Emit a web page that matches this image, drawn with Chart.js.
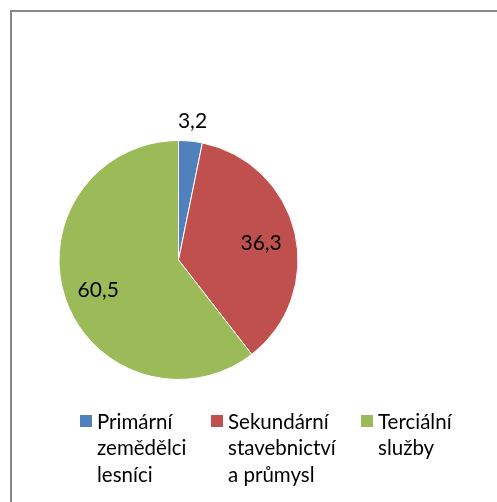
<!DOCTYPE html>
<html>
<head>
<meta charset="utf-8">
<script src="https://cdn.jsdelivr.net/npm/chart.js@4/dist/chart.umd.min.js"></script>
<style>
  html, body { margin: 0; padding: 0; background: #fff; }
  #wrap { position: relative; width: 497px; height: 502px; }
</style>
</head>
<body>
<div id="wrap"><canvas id="c" width="497" height="502"></canvas></div>
<script>
// Sector shares of employment (%)
const sectors = [
  ['Primární', 'zemědělci', 'lesníci'],
  ['Sekundární', 'stavebnictví', 'a průmysl'],
  ['Terciální', 'služby']
];
const shares = [3.2, 36.3, 60.5];
const sliceColors = ['#4F81BD', '#C0504D', '#9BBB59'];

const FONT = 'Lato, "Open Sans", sans-serif';

// Frame lines (top and left) around the plot area
const framePlugin = {
  id: 'frame',
  beforeDraw(chart) {
    const ctx = chart.ctx;
    ctx.save();
    ctx.fillStyle = '#fff';
    ctx.fillRect(0, 0, chart.width, chart.height);
    ctx.strokeStyle = '#898989';
    ctx.lineWidth = 2;
    ctx.beginPath();
    ctx.moveTo(11, chart.height + 5);
    ctx.lineTo(11, 11);
    ctx.lineTo(chart.width + 5, 11);
    ctx.stroke();
    ctx.restore();
  }
};

// Value labels: inside the slice for big ones, above the rim for small ones
const valueLabelPlugin = {
  id: 'valueLabels',
  afterDatasetsDraw(chart) {
    const ctx = chart.ctx;
    const meta = chart.getDatasetMeta(0);
    const values = chart.data.datasets[0].data;
    ctx.save();
    ctx.font = '21px ' + FONT;
    ctx.fillStyle = '#000';
    ctx.textAlign = 'center';
    ctx.textBaseline = 'middle';
    meta.data.forEach((arc, i) => {
      const p = arc.getProps(['x', 'y', 'startAngle', 'endAngle', 'outerRadius'], true);
      const mid = (p.startAngle + p.endAngle) / 2;
      const small = values[i] < 10;
      const dist = small ? p.outerRadius + 20 : p.outerRadius * 0.71;
      const x = p.x + Math.cos(mid) * dist;
      const y = p.y + Math.sin(mid) * dist + (small ? 0 : 3);
      ctx.fillText(String(values[i]).replace('.', ','), x, y);
    });
    ctx.restore();
  }
};

// Legend below the pie with wrapped labels
const wrappedLegendPlugin = {
  id: 'wrappedLegend',
  afterDraw(chart) {
    const ctx = chart.ctx;
    const labels = chart.data.labels;
    const colors = chart.data.datasets[0].backgroundColor;
    const colX = [80, 211, 361];
    const top = 415;
    const lineH = 26.5;
    ctx.save();
    ctx.font = '20.5px ' + FONT;
    ctx.fillStyle = '#000';
    ctx.textAlign = 'left';
    ctx.textBaseline = 'alphabetic';
    labels.forEach((lines, i) => {
      ctx.fillStyle = colors[i];
      ctx.fillRect(colX[i], top, 12, 12);
      ctx.fillStyle = '#000';
      lines.forEach((t, k) => {
        ctx.fillText(t, colX[i] + 17, top + 13.5 + k * lineH);
      });
    });
    ctx.restore();
  }
};

new Chart(document.getElementById('c'), {
  type: 'pie',
  data: {
    labels: sectors,
    datasets: [{
      data: shares,
      backgroundColor: sliceColors,
      borderColor: '#ffffff',
      borderWidth: 1
    }]
  },
  options: {
    responsive: false,
    animation: false,
    layout: { padding: { left: 58.5, right: 198.5, top: 140, bottom: 122 } },
    plugins: {
      legend: { display: false },
      tooltip: { enabled: false }
    }
  },
  plugins: [framePlugin, valueLabelPlugin, wrappedLegendPlugin]
});
</script>
</body>
</html>
